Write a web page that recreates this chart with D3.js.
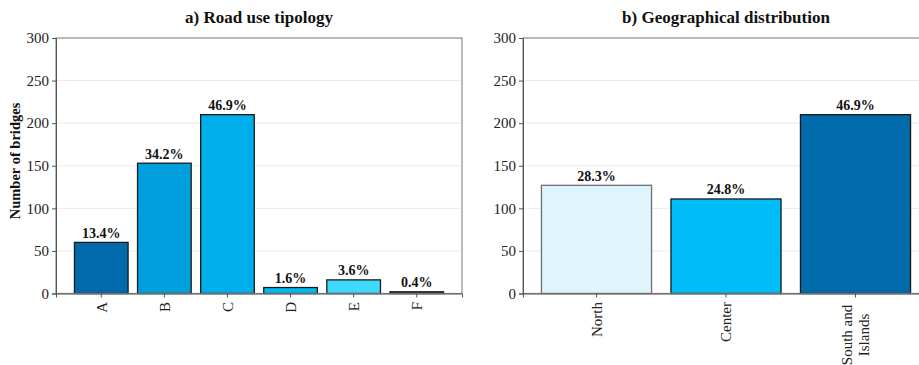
<!DOCTYPE html>
<html>
<head>
<meta charset="utf-8">
<script src="https://cdn.jsdelivr.net/npm/d3@7"></script>
<style>
  body { margin: 0; background: #fff; }
  svg { display: block; font-family: "Liberation Serif", "Times New Roman", serif; }
  svg text { font-family: "Liberation Serif", "Times New Roman", serif; }
</style>
</head>
<body>
<svg id="chart" width="919" height="365"></svg>
<script>
// road use tipology
const roadCats = ['A', 'B', 'C', 'D', 'E', 'F'];
const roadCounts = [60, 153, 210, 7, 16, 2];
const roadLabels = ['13.4%', '34.2%', '46.9%', '1.6%', '3.6%', '0.4%'];
const roadColors = ['#006aab', '#009fde', '#00aeec', '#00b9f2', '#3fdafb', '#454545'];

// geographical distribution
const geoCats = ['North', 'Center', 'South and\nIslands'];
const geoCounts = [127, 111, 210];
const geoLabels = ['28.3%', '24.8%', '46.9%'];
const geoColors = ['#dff5fd', '#00bdf8', '#006aab'];

const yTicks = [0, 50, 100, 150, 200, 250, 300];

const svg = d3.select('#chart');
const plotTop = 38, plotBottom = 293.5;
const y = d3.scaleLinear().domain([0, 300]).range([plotBottom, plotTop]);

function panel(opts) {
  const { x0, x1, cats, counts, labels, colors, title, margin } = opts;
  const g = svg.append('g');

  // outer padding mimics matplotlib's 5% margins, bars width 0.85
  const x = d3.scaleBand()
    .domain(cats)
    .range([x0, x1])
    .paddingInner(0.15)
    .paddingOuter(margin);

  // grid
  g.append('g')
    .selectAll('line')
    .data(yTicks.filter(d => d > 0 && d < 300))
    .enter().append('line')
    .attr('x1', x0).attr('x2', x1)
    .attr('y1', d => y(d)).attr('y2', d => y(d))
    .attr('stroke', '#ebebeb').attr('stroke-width', 1);

  // bars
  g.selectAll('rect.bar')
    .data(counts)
    .enter().append('rect')
    .attr('class', 'bar')
    .attr('x', (d, i) => x(cats[i]))
    .attr('y', d => y(d))
    .attr('width', x.bandwidth())
    .attr('height', d => plotBottom - y(d))
    .attr('fill', (d, i) => colors[i])
    .attr('stroke', (d, i) => colors[i] === '#dff5fd' ? '#6e6e6e' : '#1a1a1a')
    .attr('stroke-width', 1.3);

  // value labels
  g.selectAll('text.val')
    .data(counts)
    .enter().append('text')
    .attr('class', 'val')
    .attr('x', (d, i) => x(cats[i]) + x.bandwidth() / 2)
    .attr('y', d => y(d) - 4.5)
    .attr('text-anchor', 'middle')
    .attr('font-weight', 'bold')
    .attr('font-size', 14)
    .attr('fill', '#111')
    .text((d, i) => labels[i]);

  // frame
  g.append('rect')
    .attr('x', x0).attr('y', plotTop)
    .attr('width', x1 - x0).attr('height', plotBottom - plotTop)
    .attr('fill', 'none')
    .attr('stroke', '#8c8c8c').attr('stroke-width', 1.2);

  // y axis
  const ya = g.append('g')
    .attr('transform', `translate(${x0},0)`)
    .call(d3.axisLeft(y).tickValues(yTicks).tickSize(4).tickPadding(3));
  ya.attr('font-family', null).attr('font-size', null);
  ya.select('.domain').attr('stroke', '#555');
  ya.selectAll('.tick line').attr('stroke', '#555');
  ya.selectAll('text')
    .style('font-size', '15px')
    .attr('fill', '#222');

  // x axis
  const xa = g.append('g')
    .attr('transform', `translate(0,${plotBottom})`)
    .call(d3.axisBottom(x).tickSize(4).tickFormat(''));
  xa.select('.domain').attr('stroke', '#555');
  xa.selectAll('.tick line').attr('stroke', '#555');

  // rotated tick labels, multi-line centred
  cats.forEach(c => {
    const lines = c.split('\n');
    const cx = x(c) + x.bandwidth() / 2;
    const lh = 17;
    const t = g.append('text')
      .attr('transform', `translate(${cx},${plotBottom + 8.5}) rotate(-90)`)
      .attr('font-size', 15)
      .attr('fill', '#222');
    lines.forEach((l, i) => {
      t.append('tspan')
        .attr('x', 0)
        .attr('y', (i - (lines.length - 1) / 2) * lh)
        .attr('dy', '0.35em')
        .attr('text-anchor', lines.length > 1 ? 'middle' : 'end')
        .attr('dx', lines.length > 1 ? -33 : 0)
        .text(l);
    });
  });

  // title
  g.append('text')
    .attr('x', (x0 + Math.min(x1, 919)) / 2 + (x1 > 919 ? 5 : 0))
    .attr('y', 23)
    .attr('text-anchor', 'middle')
    .attr('font-weight', 'bold')
    .attr('font-size', 17)
    .attr('fill', '#111')
    .text(title);
}

panel({
  x0: 56, x1: 462, cats: roadCats, counts: roadCounts, labels: roadLabels,
  colors: roadColors, title: 'a) Road use tipology', margin: 0.2925
});
panel({
  x0: 523, x1: 929, cats: geoCats, counts: geoCounts, labels: geoLabels,
  colors: geoColors, title: 'b) Geographical distribution', margin: 0.1425
});

// y axis title
svg.append('text')
  .attr('transform', `translate(20,161) rotate(-90)`)
  .attr('text-anchor', 'middle')
  .attr('font-weight', 'bold')
  .attr('font-size', 14.5)
  .attr('fill', '#111')
  .text('Number of bridges');
</script>
</body>
</html>
